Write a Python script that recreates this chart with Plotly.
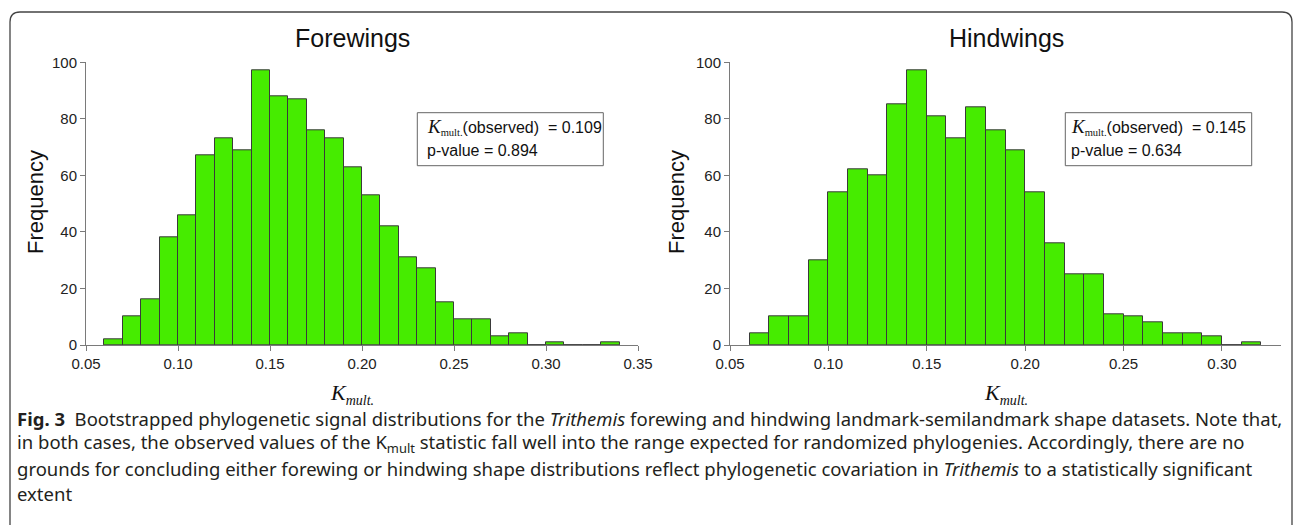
import plotly.graph_objects as go

# ---------------- data ----------------
fore_edges = [0.06, 0.07, 0.08, 0.09, 0.10, 0.11, 0.12, 0.13, 0.14, 0.15, 0.16, 0.17, 0.18,
              0.19, 0.20, 0.21, 0.22, 0.23, 0.24, 0.25, 0.26, 0.27, 0.28, 0.29, 0.30, 0.31,
              0.32, 0.33]
fore_counts = [2, 10, 16, 38, 46, 67, 73, 69, 97, 88, 87, 76, 73,
               63, 53, 42, 31, 27, 15, 9, 9, 3, 4, 0, 1, 0,
               0, 1]

hind_edges = [0.06, 0.07, 0.08, 0.09, 0.10, 0.11, 0.12, 0.13, 0.14, 0.15, 0.16, 0.17, 0.18,
              0.19, 0.20, 0.21, 0.22, 0.23, 0.24, 0.25, 0.26, 0.27, 0.28, 0.29, 0.30, 0.31]
hind_counts = [4, 10, 10, 30, 54, 62, 60, 85, 97, 81, 73, 84, 76,
               69, 54, 36, 25, 25, 11, 10, 8, 4, 4, 3, 0, 1]

bin_width = 0.01
panel_titles = ["Forewings", "Hindwings"]
fore_stats = ["0.109", "0.894"]
hind_stats = ["0.145", "0.634"]
y_ticks = [0, 20, 40, 60, 80, 100]
fore_xticks = [0.05, 0.10, 0.15, 0.20, 0.25, 0.30, 0.35]
hind_xticks = [0.05, 0.10, 0.15, 0.20, 0.25, 0.30]

caption_lines = [
    "<b>Fig. 3</b>  Bootstrapped phylogenetic signal distributions for the <i>Trithemis</i> forewing and hindwing landmark-semilandmark shape datasets. Note that,",
    "in both cases, the observed values of the K<sub>mult</sub> statistic fall well into the range expected for randomized phylogenies. Accordingly, there are no",
    "grounds for concluding either forewing or hindwing shape distributions reflect phylogenetic covariation in <i>Trithemis</i> to a statistically significant",
    "extent",
]

# ---------------- layout helpers ----------------
W, H = 1293, 525
def px(x):
    return x / W
def py(y):
    return 1 - y / H

SANS = "Liberation Sans, Arial, sans-serif"
SERIF = "Liberation Serif, Times New Roman, serif"
BAR_FILL = "#46EC00"
BAR_LINE = "#3a3a3a"
AXIS_COL = "#7a7a7a"

fig = go.Figure()

fig.add_trace(go.Bar(
    x=[e + bin_width / 2 for e in fore_edges], y=fore_counts, width=bin_width,
    marker=dict(color=BAR_FILL, line=dict(color=BAR_LINE, width=1)),
    xaxis="x", yaxis="y", showlegend=False, hoverinfo="x+y"))
fig.add_trace(go.Bar(
    x=[e + bin_width / 2 for e in hind_edges], y=hind_counts, width=bin_width,
    marker=dict(color=BAR_FILL, line=dict(color=BAR_LINE, width=1)),
    xaxis="x2", yaxis="y2", showlegend=False, hoverinfo="x+y"))

ax_common = dict(showline=True, linecolor=AXIS_COL, linewidth=1, ticks="outside",
                 ticklen=5, tickcolor=AXIS_COL, tickwidth=1, showgrid=False,
                 zeroline=False, automargin=False,
                 tickfont=dict(family=SANS, size=15, color="#222"))

yd = [py(345), py(62.3)]
fig.update_layout(
    width=W, height=H, margin=dict(l=0, r=0, t=0, b=0, pad=0, autoexpand=False),
    paper_bgcolor="white", plot_bgcolor="rgba(0,0,0,0)",
    bargap=0, barmode="overlay",
    xaxis=dict(domain=[px(86), px(638)], range=[0.05, 0.35], tickvals=fore_xticks,
               tickformat=".2f", anchor="y", **ax_common),
    yaxis=dict(domain=yd, range=[0, 100], tickvals=y_ticks, anchor="x", **ax_common),
    xaxis2=dict(domain=[px(730), px(1281)], range=[0.05, 0.33], tickvals=hind_xticks,
                tickformat=".2f", anchor="y2", **ax_common),
    yaxis2=dict(domain=yd, range=[0, 100], tickvals=y_ticks, anchor="x2", **ax_common),
)

ann = []
shapes = []

# frame with rounded top corners
r = 10
x0, x1, y0, y1 = 10, 1292, 12, 530
path = (f"M {px(x0)},{py(y1)} L {px(x0)},{py(y0 + r)} "
        f"Q {px(x0)},{py(y0)} {px(x0 + r)},{py(y0)} "
        f"L {px(x1 - r)},{py(y0)} Q {px(x1)},{py(y0)} {px(x1)},{py(y0 + r)} "
        f"L {px(x1)},{py(y1)}")
shapes.append(dict(type="path", xref="paper", yref="paper", path=path,
                   line=dict(color="#444", width=1.3)))

panels = [
    dict(title=panel_titles[0], cx=352, ylab_x=35, box=(417.3, 603.3), pad=8, stats=fore_stats),
    dict(title=panel_titles[1], cx=1006, ylab_x=676, box=(1065.3, 1251.7), pad=4, stats=hind_stats),
]
for p in panels:
    ann.append(dict(text=p["title"], x=px(p["cx"]), y=py(38), xref="paper", yref="paper",
                    showarrow=False, xanchor="center", yanchor="middle",
                    font=dict(family=SANS, size=25, color="#111")))
    ann.append(dict(text="Frequency", x=px(p["ylab_x"]), y=py(202), xref="paper", yref="paper",
                    showarrow=False, textangle=-90, xanchor="center", yanchor="middle",
                    font=dict(family=SANS, size=22, color="#111")))
    ann.append(dict(text='<i>K</i><sub><span style="font-size:14px"><i>mult.</i></span></sub>',
                    x=px(p["cx"]), y=py(394),
                    xref="paper", yref="paper", showarrow=False, xanchor="center",
                    yanchor="middle", font=dict(family=SERIF, size=22, color="#111")))
    bx0, bx1 = p["box"]
    shapes.append(dict(type="rect", xref="paper", yref="paper",
                       x0=px(bx0), x1=px(bx1), y0=py(112.7), y1=py(165.7),
                       line=dict(color="#666", width=1), fillcolor="white"))
    ann.append(dict(text=(f'<span style="font-family:{SERIF}; font-size:19px"><i>K</i></span>'
                          f'<span style="font-family:{SERIF}; font-size:15px"><sub>mult.</sub></span>'
                          f'(observed) &nbsp;= {p["stats"][0]}'),
                    x=px(bx0 + p["pad"]), y=py(127), xref="paper", yref="paper", showarrow=False,
                    xanchor="left", yanchor="middle",
                    font=dict(family=SANS, size=16, color="#111")))
    ann.append(dict(text=f'p-value = {p["stats"][1]}',
                    x=px(bx0 + p["pad"]), y=py(150), xref="paper", yref="paper", showarrow=False,
                    xanchor="left", yanchor="middle",
                    font=dict(family=SANS, size=16, color="#111")))

cap_y = [418, 443, 468, 493]
for line, yy in zip(caption_lines, cap_y):
    ann.append(dict(text=line, x=px(15), y=py(yy), xref="paper", yref="paper",
                    showarrow=False, xanchor="left", yanchor="middle",
                    font=dict(family="Noto Sans, sans-serif", size=18.5, color="#231f20")))

fig.update_layout(annotations=ann, shapes=shapes)
fig.write_html("out.html")
